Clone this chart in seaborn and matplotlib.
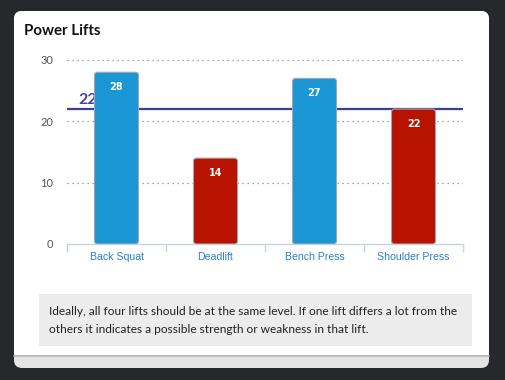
import matplotlib
matplotlib.use("Agg")
import matplotlib.pyplot as plt
import seaborn as sns
from matplotlib.patches import FancyBboxPatch, Rectangle

# data
lifts = ["Back Squat", "Deadlift", "Bench Press", "Shoulder Press"]
weights = [28, 14, 27, 22]
bar_colors = ["#1a96d4", "#b81200", "#1a96d4", "#b81200"]
target = 22
y_ticks = [0, 10, 20, 30]
note = ("Ideally, all four lifts should be at the same level. If one lift differs a lot from the\n"
        "others it indicates a possible strength or weakness in that lift.")

sns.set_theme(style="white")
plt.rcParams["font.family"] = ["Lato", "DejaVu Sans"]

W, H = 505, 380
fig = plt.figure(figsize=(W / 100, H / 100), dpi=100)
fig.patch.set_facecolor("#26282b")

# background card, drawn in pixel coordinates
bg = fig.add_axes([0, 0, 1, 1], zorder=0)
bg.set_xlim(0, W)
bg.set_ylim(H, 0)
bg.axis("off")
bg.add_patch(FancyBboxPatch((14, 11), 475, 357, boxstyle="round,pad=0,rounding_size=8",
                            fc="#e4e4e4", ec="none"))
bg.add_patch(FancyBboxPatch((14, 11), 475, 320, boxstyle="round,pad=0,rounding_size=8",
                            fc="white", ec="none"))
bg.add_patch(Rectangle((14, 300), 475, 55, fc="white", ec="none"))
bg.plot([14, 489], [355.5, 355.5], color="#b5b5b5", lw=1.2)
bg.add_patch(Rectangle((39, 294), 433, 52, fc="#ececec", ec="none"))
bg.text(24, 31, "Power Lifts", fontsize=10.8, fontweight="bold", color="#111111", va="center")
bg.text(49, 320.5, note, fontsize=8.6, color="#222222", va="center", linespacing=1.68)

# chart
ax = fig.add_axes([67 / W, 136 / H, 396 / W, 184 / H], zorder=1)
ax.set_facecolor("none")
sns.barplot(x=lifts, y=weights, hue=lifts, palette=bar_colors, width=0.445,
            saturation=1, legend=False, ax=ax)
ax.set_xlim(-0.5, 3.5)
ax.set_ylim(0, 30)

# swap the flat bars for slightly rounded ones
px_x = 396 / 4      # pixels per x unit
px_y = 184 / 30     # pixels per y unit
for bar in list(ax.patches):
    x0, y0 = bar.get_x(), bar.get_y()
    w, h = bar.get_width(), bar.get_height()
    fc = bar.get_facecolor()
    bar.remove()
    ax.add_patch(FancyBboxPatch((x0, y0), w, h,
                                boxstyle="round,pad=0,rounding_size=%.4f" % (3 / px_x),
                                mutation_aspect=px_x / px_y,
                                fc=fc, ec="#a8a8a8", lw=0.8, zorder=3))

ax.axhline(target, color="#3d3d9c", lw=1.6, zorder=2)
ax.text(-0.39, target + 0.4, str(target), fontsize=11.5, fontweight="bold",
        color="#4a40a0", va="bottom", ha="left", zorder=2)

for i, v in enumerate(weights):
    ax.annotate(str(v), (i, v), xytext=(0, -7), textcoords="offset points",
                ha="center", va="top", color="white", fontsize=7,
                fontweight="bold", family="DejaVu Sans", zorder=4)

ax.set_yticks(y_ticks)
ax.set_yticklabels([str(t) for t in y_ticks])
ax.tick_params(axis="y", length=0, pad=10, labelsize=8, labelcolor="#555555")
ax.set_xticks(range(len(lifts)))
ax.set_xticklabels(lifts, family="Liberation Sans")
ax.set_xticks([-0.5, 0.5, 1.5, 2.5, 3.5], minor=True)
ax.tick_params(axis="x", which="major", length=0, pad=6, labelsize=7.6, labelcolor="#2a7fc9")
ax.tick_params(axis="x", which="minor", length=6, width=1, color="#c5d5e5", bottom=True)
ax.set_xlabel("")
ax.set_ylabel("")

for y in y_ticks[1:]:
    ax.axhline(y, color="#888888", lw=0.9, ls=(0, (1, 3)), zorder=1)

for s in ["left", "top", "right"]:
    ax.spines[s].set_visible(False)
ax.spines["bottom"].set_color("#c5d5e5")
ax.spines["bottom"].set_linewidth(1)

fig.savefig("out.png", dpi=100, facecolor=fig.get_facecolor())
